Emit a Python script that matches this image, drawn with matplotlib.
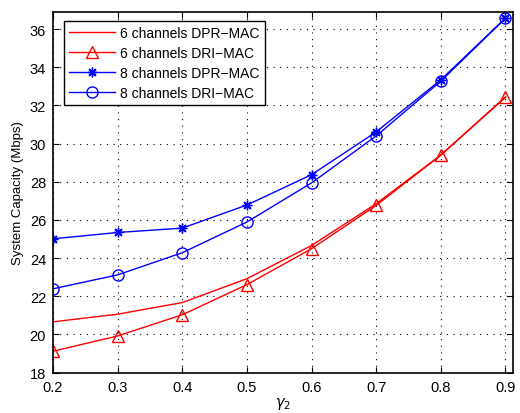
import numpy as np
import matplotlib
matplotlib.use("Agg")
import matplotlib.pyplot as plt

plt.rcParams['font.family'] = ['Liberation Sans', 'DejaVu Sans']

gamma2 = [0.2, 0.3, 0.4, 0.5, 0.6, 0.7, 0.8, 0.9]

dpr6 = [20.66, 21.06, 21.67, 22.92, 24.66, 26.85, 29.40, 32.42]
dri6 = [19.12, 19.92, 21.03, 22.61, 24.49, 26.76, 29.39, 32.45]
dpr8 = [25.01, 25.34, 25.57, 26.78, 28.37, 30.61, 33.34, 36.58]
dri8 = [22.39, 23.12, 24.28, 25.89, 27.94, 30.40, 33.27, 36.56]

labels = ["6 channels DPR\u2212MAC", "6 channels DRI\u2212MAC",
          "8 channels DPR\u2212MAC", "8 channels DRI\u2212MAC"]
xticks = [0.2, 0.3, 0.4, 0.5, 0.6, 0.7, 0.8, 0.9]
yticks = [18, 20, 22, 24, 26, 28, 30, 32, 34, 36]

fig = plt.figure(figsize=(5.2, 4.14), dpi=100)
ax = fig.add_axes([0.102, 0.0976, 0.8845, 0.8714])

ax.plot(gamma2, dpr6, color='#ff0000', lw=1, label=labels[0])
ax.plot(gamma2, dri6, color='#ff0000', lw=1, marker='^', ms=8, mfc='none',
        mew=1, label=labels[1])
ax.plot(gamma2, dpr8, color='#0000ff', lw=1, marker=(8, 2, 0), ms=7,
        mew=1, label=labels[2])
ax.plot(gamma2, dri8, color='#0000ff', lw=1, marker='o', ms=8, mfc='none',
        mew=1, label=labels[3])

ax.set_xlim(0.2, 0.9116)
ax.set_ylim(18, 36.9)
ax.set_xticks(xticks)
ax.set_xticklabels([str(v) for v in xticks])
ax.set_yticks(yticks)
ax.tick_params(direction='in', top=True, right=True, labelsize=10.5, length=4,
               pad=5)
for s in ax.spines.values():
    s.set_linewidth(1.2)

ax.grid(True, linestyle=(0, (1, 5)), color='k', lw=0.8)

ax.set_xlabel(r"$\gamma_2$", fontsize=10.5, labelpad=1)
ax.set_ylabel("System Capacity (Mbps)", fontsize=9.5)

leg = ax.legend(loc='upper left', bbox_to_anchor=(0.015, 0.985), fontsize=10,
                frameon=True, fancybox=False, edgecolor='k', framealpha=1,
                handlelength=3.3, handletextpad=0.4, borderpad=0.35,
                labelspacing=0.42, borderaxespad=0.3)
leg.get_frame().set_linewidth(1.0)

fig.savefig("out.png", dpi=100)
